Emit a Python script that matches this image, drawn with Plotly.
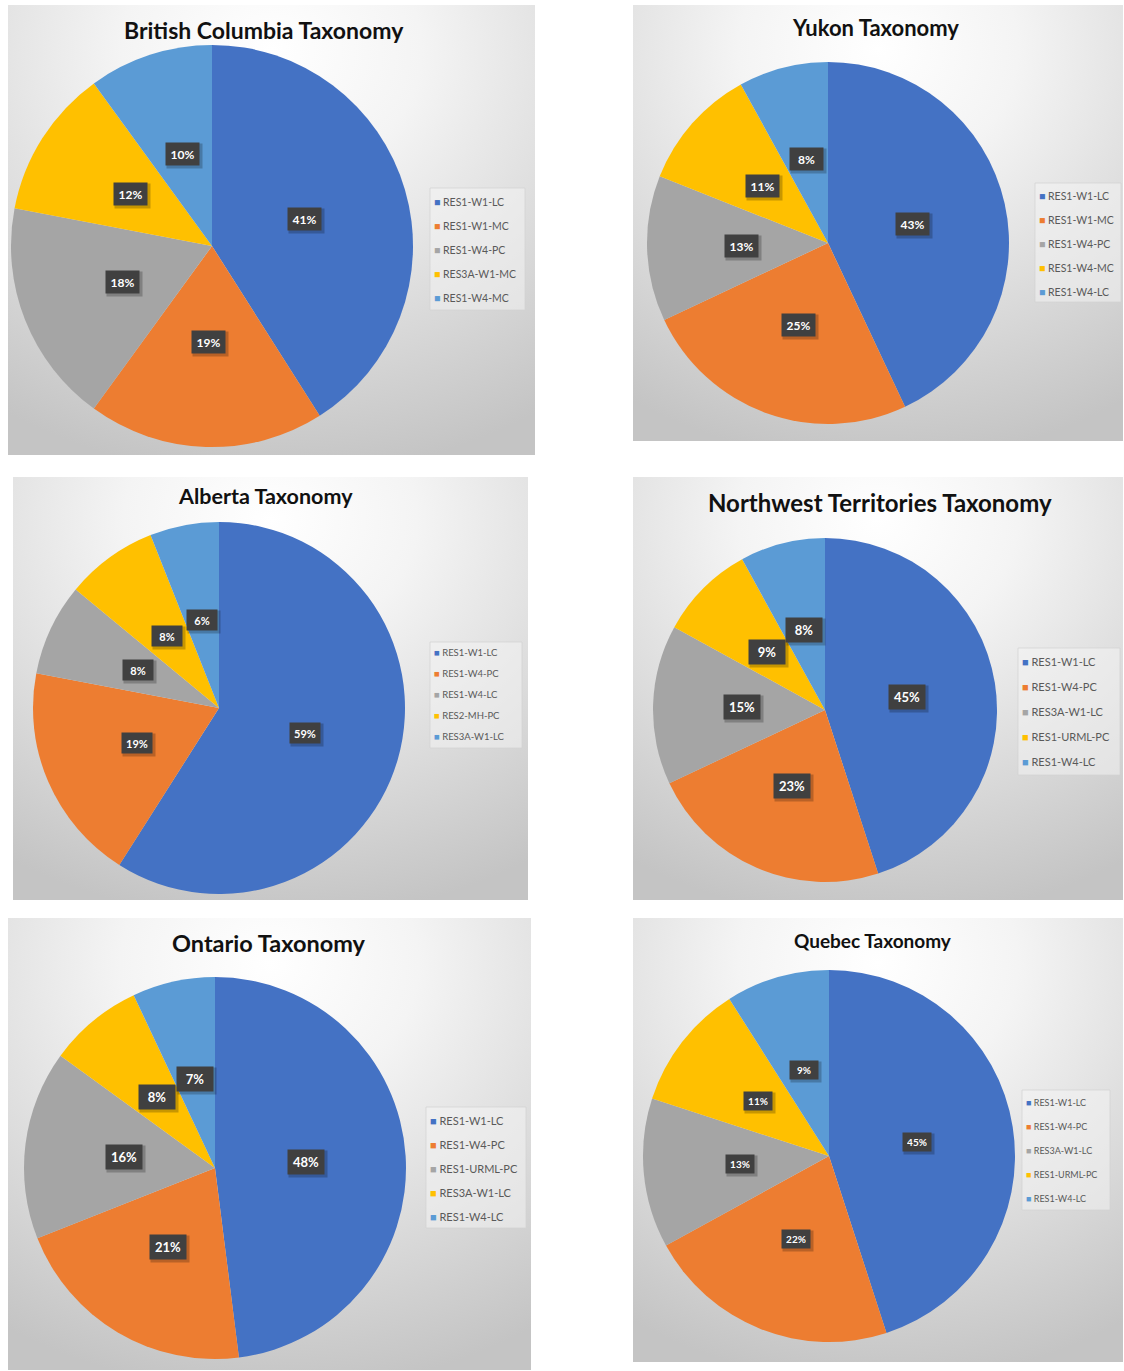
import base64
import math
import plotly.graph_objects as go

# ---- data: share of building taxonomy classes per province / territory (%) ----
bc_labels = ["RES1-W1-LC", "RES1-W1-MC", "RES1-W4-PC", "RES3A-W1-MC", "RES1-W4-MC"]
bc_share = [41, 19, 18, 12, 10]

yukon_labels = ["RES1-W1-LC", "RES1-W1-MC", "RES1-W4-PC", "RES1-W4-MC", "RES1-W4-LC"]
yukon_share = [43, 25, 13, 11, 8]

alberta_labels = ["RES1-W1-LC", "RES1-W4-PC", "RES1-W4-LC", "RES2-MH-PC", "RES3A-W1-LC"]
alberta_share = [59, 19, 8, 8, 6]

nwt_labels = ["RES1-W1-LC", "RES1-W4-PC", "RES3A-W1-LC", "RES1-URML-PC", "RES1-W4-LC"]
nwt_share = [45, 23, 15, 9, 8]

ontario_labels = ["RES1-W1-LC", "RES1-W4-PC", "RES1-URML-PC", "RES3A-W1-LC", "RES1-W4-LC"]
ontario_share = [48, 21, 16, 8, 7]

quebec_labels = ["RES1-W1-LC", "RES1-W4-PC", "RES3A-W1-LC", "RES1-URML-PC", "RES1-W4-LC"]
quebec_share = [45, 22, 13, 11, 9]

titles = ["British Columbia Taxonomy", "Yukon Taxonomy", "Alberta Taxonomy",
          "Northwest Territories Taxonomy", "Ontario Taxonomy", "Quebec Taxonomy"]

slice_colors = ["#4472C4", "#ED7D31", "#A5A5A5", "#FFC000", "#5B9BD5"]

W, H = 1124, 1371

# ---- page layout in pixels ----
# box: panel (x0, y0, x1, y1); pie: (cx, cy, r); title: (x, y, size);
# legend: box (x0, y0, x1, y1), first row y, font size, row gap; lab: label font size
panels = [
    dict(labels=bc_labels, share=bc_share, box=(8, 5, 535, 455), pie=(212, 246, 201),
         title=(264, 30, 23), legend=((430, 188, 525, 310), 201, 10.5, 5), lab=12),
    dict(labels=yukon_labels, share=yukon_share, box=(633, 5, 1123, 441), pie=(828, 243, 181),
         title=(875, 28, 22), legend=((1035, 183, 1121, 302), 195, 10.5, 5), lab=12),
    dict(labels=alberta_labels, share=alberta_share, box=(13, 477, 528, 900), pie=(219, 708, 186),
         title=(265, 496, 21.5), legend=((430, 642, 522, 748), 652, 9.5, 2), lab=11),
    dict(labels=nwt_labels, share=nwt_share, box=(633, 477, 1123, 900), pie=(825, 710, 172),
         title=(880, 502, 24), legend=((1018, 648, 1120, 775), 661, 11, 6), lab=13),
    dict(labels=ontario_labels, share=ontario_share, box=(8, 918, 531, 1370), pie=(215, 1168, 191),
         title=(269, 943, 23.5), legend=((426, 1107, 526, 1228), 1120, 11, 5), lab=13),
    dict(labels=quebec_labels, share=quebec_share, box=(633, 918, 1123, 1362), pie=(829, 1156, 186),
         title=(873, 940, 19), legend=((1022, 1090, 1110, 1210), 1102, 9, 5), lab=10),
]

FONT = "Lato"
LABEL_RADIUS = 0.48  # fraction of the pie radius where the % boxes sit

# soft grey radial fill used behind every chart
bg_svg = (
    '<svg xmlns="http://www.w3.org/2000/svg" width="100" height="100" '
    'viewBox="0 0 100 100" preserveAspectRatio="none">'
    '<defs><radialGradient id="g" cx="0.5" cy="0.1" r="0.95" fx="0.5" fy="0.1">'
    '<stop offset="0" stop-color="#ffffff"/>'
    '<stop offset="0.3" stop-color="#f4f4f4"/>'
    '<stop offset="1" stop-color="#c4c4c4"/>'
    '</radialGradient></defs>'
    '<rect x="0" y="0" width="100" height="100" fill="url(#g)"/></svg>'
)
bg_uri = "data:image/svg+xml;base64," + base64.b64encode(bg_svg.encode()).decode()


def px(x):
    return x / W


def py(y):
    return 1 - y / H


fig = go.Figure()
images, annotations, shapes, legends = [], [], [], {}

for k, p in enumerate(panels):
    x0, y0, x1, y1 = p["box"]
    cx, cy, r = p["pie"]
    legend_id = "legend" if k == 0 else f"legend{k + 1}"

    images.append(dict(source=bg_uri, xref="paper", yref="paper", x=px(x0), y=py(y0),
                       sizex=(x1 - x0) / W, sizey=(y1 - y0) / H, sizing="stretch",
                       xanchor="left", yanchor="top", layer="below"))

    fig.add_trace(go.Pie(
        labels=p["labels"], values=p["share"], sort=False, direction="clockwise",
        rotation=0, marker=dict(colors=slice_colors, line=dict(width=0)),
        textinfo="none", showlegend=False, hoverinfo="label+percent",
        domain=dict(x=[px(cx - r), px(cx + r)], y=[py(cy + r), py(cy - r)]),
    ))

    # legend rows: a coloured square glyph followed by the class name
    (bx0, by0, bx1, by1), first_row, lfs, gap = p["legend"]
    for i, (name, col) in enumerate(zip(p["labels"], slice_colors)):
        fig.add_trace(go.Scatter(
            x=[None], y=[None], mode="markers",
            name=f'<span style="color:{col}">■</span> {name}',
            marker=dict(size=1, color="rgba(0,0,0,0)"),
            legend=legend_id, legendgroup=f"p{k}-{i}", showlegend=True, hoverinfo="skip",
        ))

    shapes.append(dict(type="rect", xref="paper", yref="paper", x0=px(bx0), x1=px(bx1),
                       y0=py(by1), y1=py(by0), fillcolor="rgba(246,246,246,0.5)",
                       line=dict(color="rgba(210,210,210,0.7)", width=1), layer="below"))

    legends[legend_id] = dict(
        x=px(bx0 + 4 - 40), y=py(first_row - 14), xanchor="left", yanchor="top",
        bgcolor="rgba(0,0,0,0)", borderwidth=0,
        font=dict(family=FONT, size=lfs, color="#595959"),
        tracegroupgap=gap, itemwidth=30, traceorder="grouped",
    )

    tx, ty, tfs = p["title"]
    annotations.append(dict(text=f"<b>{titles[k]}</b>", x=px(tx), y=py(ty), xref="paper",
                            yref="paper", showarrow=False, xanchor="center", yanchor="middle",
                            font=dict(family=FONT, size=tfs, color="#111111")))

    # percentage labels centred part-way out along each slice's mid angle
    total = sum(p["share"])
    acc = 0
    for v in p["share"]:
        mid = (acc + v / 2) / total * 2 * math.pi
        acc += v
        lxp = cx + LABEL_RADIUS * r * math.sin(mid)
        lyp = cy - LABEL_RADIUS * r * math.cos(mid)
        bw, bh = int(p["lab"] * 2.8), int(p["lab"] * 1.85)
        annotations.append(dict(text="", x=px(lxp), y=py(lyp), xref="paper", yref="paper",
                                xanchor="center", yanchor="middle",
                                showarrow=False, width=bw, height=bh,
                                bgcolor="rgba(0,0,0,0.22)", xshift=2, yshift=-2))
        annotations.append(dict(text=f"<b>{v}%</b>", x=px(lxp), y=py(lyp), xref="paper",
                                yref="paper", xanchor="center", yanchor="middle",
                                showarrow=False, bgcolor="#404040", borderpad=4,
                                width=bw - 8, height=bh - 8,
                                font=dict(family=FONT, size=p["lab"], color="#ffffff")))

fig.update_layout(
    width=W, height=H, margin=dict(l=0, r=0, t=0, b=0, autoexpand=False),
    paper_bgcolor="#ffffff", plot_bgcolor="rgba(0,0,0,0)",
    xaxis=dict(visible=False), yaxis=dict(visible=False),
    images=images, annotations=annotations, shapes=shapes, **legends,
)

fig.write_html("out.html")
